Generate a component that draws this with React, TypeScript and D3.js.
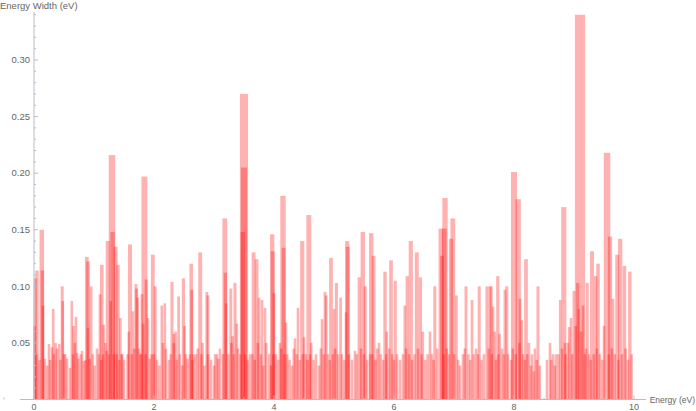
import React from 'react';
import * as d3 from 'd3';

// resonances: [energy (eV), width (eV)]
const broadLevels: [number, number][] = [
  [0.02, 0.107], [0.05, 0.114], [0.13, 0.15], [0.14, 0.114], [0.25, 0.049], [0.3, 0.046],
  [0.32, 0.08], [0.36, 0.05], [0.42, 0.049], [0.47, 0.1], [0.48, 0.087], [0.52, 0.04],
  [0.63, 0.087], [0.66, 0.065], [0.7, 0.073], [0.72, 0.041], [0.8, 0.043], [0.83, 0.034],
  [0.88, 0.126], [0.9, 0.122], [0.95, 0.1], [1.05, 0.045], [1.1, 0.093], [1.13, 0.119],
  [1.16, 0.066], [1.19, 0.05], [1.21, 0.043], [1.23, 0.14], [1.3, 0.216], [1.31, 0.148],
  [1.36, 0.135], [1.4, 0.119], [1.44, 0.072], [1.47, 0.04], [1.58, 0.06], [1.6, 0.137],
  [1.65, 0.078], [1.7, 0.102], [1.71, 0.098], [1.73, 0.09], [1.77, 0.04], [1.8, 0.093],
  [1.84, 0.197], [1.87, 0.106], [1.9, 0.072], [1.98, 0.128], [2.02, 0.1], [2.13, 0.083],
  [2.18, 0.085], [2.3, 0.104], [2.33, 0.058], [2.36, 0.06], [2.41, 0.091], [2.49, 0.107],
  [2.51, 0.065], [2.62, 0.12], [2.63, 0.097], [2.66, 0.04], [2.77, 0.13], [2.81, 0.05],
  [2.88, 0.095], [2.9, 0.092], [3.02, 0.04], [3.07, 0.036], [3.18, 0.16], [3.19, 0.112],
  [3.28, 0.098], [3.31, 0.056], [3.35, 0.103], [3.38, 0.067], [3.5, 0.27], [3.5, 0.205],
  [3.66, 0.13], [3.71, 0.124], [3.75, 0.09], [3.8, 0.088], [3.85, 0.081], [3.97, 0.146],
  [3.98, 0.131], [4.0, 0.094], [4.1, 0.05], [4.15, 0.18], [4.16, 0.134], [4.2, 0.068],
  [4.35, 0.054], [4.4, 0.081], [4.47, 0.14], [4.5, 0.055], [4.58, 0.163], [4.62, 0.05],
  [4.8, 0.071], [4.85, 0.095], [4.87, 0.092], [4.95, 0.125], [5.0, 0.08], [5.04, 0.103],
  [5.11, 0.09], [5.22, 0.14], [5.23, 0.135], [5.35, 0.043], [5.42, 0.108], [5.48, 0.148],
  [5.52, 0.1], [5.62, 0.147], [5.66, 0.127], [5.75, 0.05], [5.85, 0.113], [5.88, 0.06],
  [5.95, 0.123], [6.02, 0.105], [6.18, 0.083], [6.22, 0.109], [6.28, 0.14], [6.38, 0.13],
  [6.44, 0.108], [6.48, 0.06], [6.6, 0.06], [6.68, 0.1], [6.78, 0.151], [6.85, 0.178],
  [6.84, 0.151], [6.95, 0.142], [6.98, 0.16], [7.04, 0.092], [7.2, 0.1], [7.3, 0.088],
  [7.42, 0.1], [7.55, 0.1], [7.6, 0.1], [7.62, 0.1], [7.65, 0.082], [7.68, 0.06],
  [7.73, 0.109], [7.76, 0.058], [7.85, 0.097], [7.88, 0.1], [8.0, 0.201], [8.07, 0.177],
  [8.1, 0.089], [8.13, 0.07], [8.2, 0.124], [8.25, 0.05], [8.3, 0.04], [8.35, 0.045],
  [8.4, 0.1], [8.6, 0.05], [8.65, 0.04], [8.7, 0.04], [8.77, 0.088], [8.83, 0.17],
  [8.85, 0.05], [8.92, 0.064], [8.95, 0.072], [9.0, 0.096], [9.1, 0.34], [9.06, 0.103],
  [9.15, 0.083], [9.22, 0.103], [9.3, 0.131], [9.36, 0.109], [9.4, 0.12], [9.55, 0.218],
  [9.6, 0.144], [9.65, 0.089], [9.72, 0.128], [9.77, 0.142], [9.84, 0.118], [9.93, 0.113],
];

const narrowLevels: [number, number][] = [
  [0.01, 0.065], [0.04, 0.04], [0.09, 0.035], [0.15, 0.083], [0.18, 0.036], [0.22, 0.03],
  [0.27, 0.035], [0.33, 0.04], [0.38, 0.045], [0.44, 0.035], [0.5, 0.04], [0.55, 0.036],
  [0.6, 0.028], [0.65, 0.04], [0.68, 0.05], [0.74, 0.036], [0.78, 0.04], [0.86, 0.035],
  [0.9, 0.063], [0.93, 0.036], [0.98, 0.04], [1.01, 0.03], [1.08, 0.04], [1.12, 0.035],
  [1.15, 0.04], [1.25, 0.04], [1.28, 0.087], [1.33, 0.04], [1.38, 0.04], [1.42, 0.035],
  [1.46, 0.04], [1.5, 0.035], [1.56, 0.04], [1.63, 0.04], [1.67, 0.045], [1.75, 0.045],
  [1.79, 0.04], [1.82, 0.067], [1.86, 0.04], [1.93, 0.036], [1.96, 0.04], [2.0, 0.04],
  [2.05, 0.035], [2.09, 0.03], [2.15, 0.05], [2.2, 0.045], [2.25, 0.035], [2.28, 0.04],
  [2.33, 0.05], [2.38, 0.035], [2.43, 0.04], [2.47, 0.03], [2.53, 0.04], [2.56, 0.036],
  [2.6, 0.04], [2.64, 0.035], [2.7, 0.04], [2.73, 0.045], [2.79, 0.04], [2.84, 0.03],
  [2.9, 0.04], [2.95, 0.035], [3.0, 0.03], [3.05, 0.04], [3.1, 0.045], [3.15, 0.04],
  [3.2, 0.085], [3.24, 0.04], [3.29, 0.05], [3.33, 0.04], [3.4, 0.045], [3.44, 0.04],
  [3.48, 0.148], [3.52, 0.04], [3.56, 0.035], [3.6, 0.04], [3.64, 0.04], [3.68, 0.035],
  [3.73, 0.05], [3.78, 0.04], [3.82, 0.03], [3.87, 0.05], [3.92, 0.04], [3.95, 0.03],
  [3.99, 0.04], [4.03, 0.04], [4.07, 0.035], [4.12, 0.045], [4.17, 0.04], [4.22, 0.04],
  [4.26, 0.035], [4.3, 0.03], [4.33, 0.045], [4.38, 0.04], [4.43, 0.035], [4.48, 0.04],
  [4.53, 0.04], [4.56, 0.035], [4.6, 0.04], [4.66, 0.035], [4.7, 0.04], [4.75, 0.03],
  [4.78, 0.045], [4.83, 0.04], [4.9, 0.04], [4.93, 0.035], [4.98, 0.04], [5.02, 0.045],
  [5.07, 0.04], [5.13, 0.04], [5.17, 0.035], [5.2, 0.077], [5.25, 0.04], [5.3, 0.035],
  [5.38, 0.04], [5.45, 0.045], [5.5, 0.04], [5.55, 0.035], [5.6, 0.04], [5.64, 0.04],
  [5.69, 0.035], [5.72, 0.045], [5.78, 0.04], [5.82, 0.035], [5.87, 0.04], [5.92, 0.045],
  [5.97, 0.04], [6.0, 0.035], [6.05, 0.04], [6.1, 0.035], [6.15, 0.04], [6.2, 0.045],
  [6.25, 0.04], [6.3, 0.035], [6.34, 0.04], [6.4, 0.045], [6.46, 0.04], [6.52, 0.035],
  [6.56, 0.04], [6.63, 0.04], [6.66, 0.035], [6.72, 0.045], [6.8, 0.127], [6.83, 0.04],
  [6.88, 0.045], [6.92, 0.04], [7.0, 0.04], [7.07, 0.035], [7.1, 0.03], [7.15, 0.04],
  [7.18, 0.045], [7.24, 0.04], [7.27, 0.035], [7.33, 0.04], [7.37, 0.045], [7.4, 0.04],
  [7.46, 0.035], [7.5, 0.04], [7.58, 0.045], [7.63, 0.04], [7.7, 0.035], [7.74, 0.04],
  [7.8, 0.045], [7.83, 0.04], [7.9, 0.04], [7.95, 0.035], [7.98, 0.045], [8.03, 0.04],
  [8.09, 0.05], [8.15, 0.04], [8.18, 0.035], [8.22, 0.04], [8.28, 0.03], [8.33, 0.025],
  [8.38, 0.035], [8.43, 0.03], [8.55, 0.035], [8.62, 0.035], [8.68, 0.03], [8.74, 0.04],
  [8.8, 0.045], [8.86, 0.04], [8.9, 0.05], [8.97, 0.04], [9.03, 0.065], [9.08, 0.08],
  [9.12, 0.06], [9.18, 0.04], [9.2, 0.045], [9.25, 0.04], [9.28, 0.035], [9.33, 0.04],
  [9.38, 0.045], [9.43, 0.04], [9.47, 0.035], [9.5, 0.065], [9.58, 0.04], [9.63, 0.045],
  [9.68, 0.04], [9.74, 0.035], [9.8, 0.04], [9.86, 0.045], [9.9, 0.035], [9.96, 0.04],
];

const xTicks = [0, 2, 4, 6, 8, 10];
const yTicks = [0.05, 0.1, 0.15, 0.2, 0.25, 0.3];

const W = 696;
const H = 411;
const axisColor = '#b9bcc6';
const labelColor = '#666';
const font = 'Liberation Sans, Arial, sans-serif';

export default function App() {
  const x = d3.scaleLinear().domain([0, 10]).range([34, 634]);
  const y = d3.scaleLinear().domain([0, 0.3]).range([399.5, 60]);

  const levels = [...broadLevels, ...narrowLevels];

  const minorY = d3.range(1, 35).map(i => i / 100).filter(v => Math.round(v * 100) % 5 !== 0);
  const minorX = d3.range(-0.5, 10.01, 0.5).filter(v => v % 2 !== 0);

  return (
    <svg width={W} height={H} style={{ position: 'absolute', left: 0, top: 0 }} fontFamily={font}>
      <rect width={W} height={H} fill="#fff" />

      {/* resonance bars: centred on the energy, width grows with the energy width */}
      <g>
        {levels.map(([e, g], i) => {
          const half = Math.max(x(g / 4) - x(0), 1.3);
          return (
            <rect
              key={i}
              x={x(e) - half}
              y={y(g)}
              width={half * 2}
              height={y(0) - y(g)}
              fill="#ff0000"
              fillOpacity={0.3}
            />
          );
        })}
      </g>

      {/* y axis */}
      <line x1={x(0)} x2={x(0)} y1={y(0)} y2={12} stroke={axisColor} strokeWidth={1} />
      {yTicks.map(t => (
        <g key={t}>
          <line x1={x(0)} x2={x(0) + 4} y1={y(t)} y2={y(t)} stroke={axisColor} />
          <text x={x(0) - 4} y={y(t)} dy="0.35em" textAnchor="end" fontSize={9.5} fill={labelColor}>
            {t.toFixed(2)}
          </text>
        </g>
      ))}
      {minorY.map(t => (
        <line key={t} x1={x(0)} x2={x(0) + 2} y1={y(t)} y2={y(t)} stroke={axisColor} />
      ))}

      {/* x axis */}
      <line x1={20} x2={646} y1={y(0)} y2={y(0)} stroke={axisColor} strokeWidth={1} />
      {xTicks.map(t => (
        <g key={t}>
          <line x1={x(t)} x2={x(t)} y1={y(0)} y2={y(0) - 4} stroke={axisColor} />
          <text x={x(t)} y={y(0) + 10} textAnchor="middle" fontSize={9} fill={labelColor}>
            {t}
          </text>
        </g>
      ))}
      {minorX.map(t => (
        <line key={t} x1={x(t)} x2={x(t)} y1={y(0)} y2={y(0) - 2} stroke={axisColor} />
      ))}

      {/* axis labels */}
      <text x={0} y={9} fontSize={9.5} fill={labelColor}>Energy Width (eV)</text>
      <text x={695} y={y(0) + 3} fontSize={8.5} textAnchor="end" fill={labelColor}>Energy (eV)</text>
    </svg>
  );
}
